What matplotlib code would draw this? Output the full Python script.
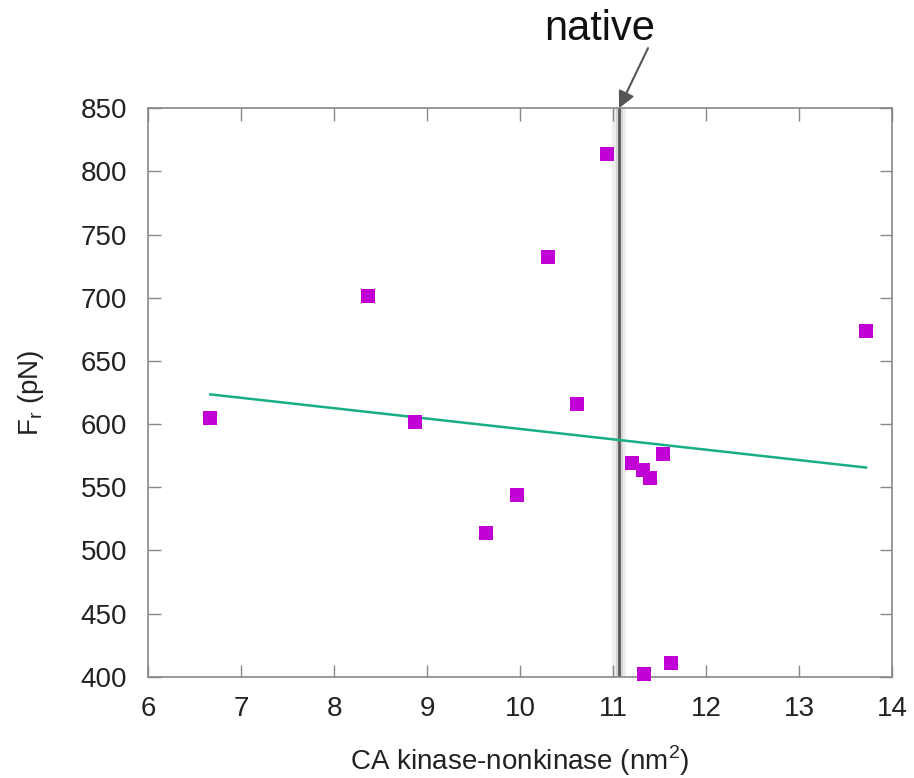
import numpy as np
import matplotlib
matplotlib.use('Agg')
import matplotlib.pyplot as plt

plt.rcParams['font.family'] = ['Liberation Sans', 'DejaVu Sans']

# CA kinase-nonkinase area (nm^2) and rupture force (pN)
ca_area = [6.67, 8.37, 8.87, 9.63, 9.97, 10.30, 10.61, 10.94,
           11.20, 11.32, 11.40, 11.54, 11.33, 11.62, 13.72]
force = [605, 701, 602, 514, 544, 732, 616, 814,
         569, 564, 557, 576, 402, 411, 674]
native_x = 11.065

x = np.array(ca_area)
y = np.array(force)
slope, icpt = np.polyfit(x, y, 1)
xf = np.array([x.min(), x.max()])

fig = plt.figure(figsize=(9.14, 7.78), dpi=100)
ax = fig.add_axes([0.162, 0.130, 0.814, 0.731])

# native line with soft shadow
ax.axvline(native_x, color='#e2e2e2', lw=10, alpha=0.6, zorder=1)
ax.axvline(native_x, color='#c8c8c8', lw=5, alpha=0.7, zorder=1)
ax.axvline(native_x, color='#5a5a5a', lw=2, zorder=2)

ax.plot(xf, slope * xf + icpt, color='#1aae85', lw=1.8, zorder=3)
ax.scatter(x, y, marker='s', s=110, color='#c000d4', zorder=4,
           linewidths=0, clip_on=False)

ax.set_xlim(6, 14)
ax.set_ylim(400, 850)
ax.set_xticks(range(6, 15))
ax.set_yticks(range(400, 851, 50))

for s in ax.spines.values():
    s.set_color('#888888')
    s.set_linewidth(1.2)
ax.tick_params(direction='in', length=9, width=1, color='#888888',
               top=True, right=True, labelsize=20, labelcolor='#222222')
ax.tick_params(axis='x', pad=14)
ax.tick_params(axis='y', pad=15)

ax.set_xlabel('CA kinase-nonkinase (nm$^\\mathregular{2}$)', fontsize=20,
              color='#222222', labelpad=15)
ax.set_ylabel('F$_\\mathregular{r}$ (pN)', fontsize=20, color='#222222',
              labelpad=25)

# label and arrow pointing at the native value
ax.text(10.86, 904, 'native', fontsize=30, ha='center', va='baseline',
        color='#111111')
ax.annotate('', xy=(native_x, 850), xytext=(11.376, 897.5),
            annotation_clip=False,
            arrowprops=dict(arrowstyle='-|>', color='#555555', lw=1.5,
                            mutation_scale=25, shrinkA=0, shrinkB=0))

fig.savefig('out.png', dpi=100)
